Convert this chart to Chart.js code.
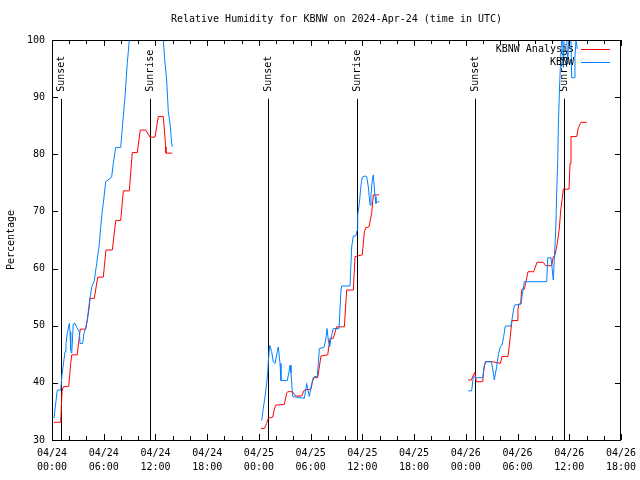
<!DOCTYPE html>
<html>
<head>
<meta charset="utf-8">
<title>Relative Humidity for KBNW</title>
<script src="https://cdn.jsdelivr.net/npm/chart.js@4"></script>
<style>
  html, body { margin: 0; padding: 0; background: #ffffff; }
  #rh-chart { display: block; }
</style>
</head>
<body>
<canvas id="rh-chart" width="640" height="480"></canvas>
<script>
// hours since 04/24 00:00 UTC, null = gap between runs
const anaHours = [
  0.23, 1.01, 1.16, 1.31, 1.94, 2.17, 2.29, 2.93, 3.10, 3.28, 3.91, 4.03, 4.33, 4.41, 4.91,
  5.30, 5.95, 6.26, 7.00, 7.39, 7.97, 8.27, 8.97, 9.31, 9.89, 10.24, 10.87, 11.37, 11.95,
  12.33, 12.91, 13.19, 13.22, 13.95, null,
  24.24, 24.63, 24.90, 25.09, 25.60, 25.79, 25.95, 26.95, 27.22, 27.34, 27.87, 28.27, 28.96,
  29.27, 30.04, 30.31, 30.82, 31.20, 31.98, 32.25, 32.63, 33.02, 33.91, 34.18, 34.95, 35.15,
  35.99, 36.23, 36.39, 36.77, 37.08, 37.27, 37.93, null,
  48.25, 48.64, 48.83, 49.03, 49.22, 49.96, 50.08, 50.26, 51.12, 52.00, 52.20, 52.89, 53.05,
  53.16, 53.28, 53.36, 53.94, 54.05, 54.14, 54.37, 54.44, 54.52, 54.78, 54.98, 55.21, 55.87,
  56.26, 56.99, 57.27, 57.96, 58.15, 58.35, 58.61, 58.85, 59.01, 59.19, 59.31, 59.97, 60.09,
  60.20, 60.86, 61.05, 61.36, 62.02
];
const anaRH = [
  33.1, 33.1, 38.45, 39.3, 39.4, 43.4, 44.9, 44.9, 47.2, 49.4, 49.4, 50.4, 53.3, 54.8, 54.8,
  58.5, 58.5, 63.25, 63.25, 68.4, 68.4, 73.6, 73.6, 80.3, 80.3, 84.25, 84.25, 83.0, 83.0,
  86.6, 86.6, 81.3, 80.2, 80.2, null,
  32.0, 32.0, 32.9, 33.8, 34.0, 35.4, 36.1, 36.25, 38.2, 38.45, 38.45, 37.7, 37.7,
  38.75, 38.9, 40.9, 40.9, 44.7, 44.9, 47.8, 47.8, 49.8, 49.8, 56.25, 56.25, 62.1,
  62.4, 66.45, 67.15, 67.3, 69.7, 72.9, 72.9, null,
  40.5, 40.5, 41.2, 41.8, 40.2, 40.2, 42.25, 43.7, 43.7, 43.4, 44.6, 44.6, 46.6,
  48.1, 49.95, 50.9, 50.9, 52.75, 53.8, 53.8, 55.7, 56.4, 56.4, 57.7, 59.45, 59.45,
  61.1, 61.1, 60.5, 60.5, 62.1, 62.4, 64.4, 67.05, 70.25, 72.3, 73.9, 73.9, 78.4,
  83.1, 83.1, 84.65, 85.6, 85.6
];

const obsHours = [
  0.23, 0.61, 1.01, 1.16, 1.31, 1.51, 1.62, 1.77, 2.01, 2.09, 2.17, 2.29, 2.47, 2.67, 2.87,
  3.17, 3.25, 3.56, 3.71, 3.94, 4.09, 4.33, 4.61, 4.91, 5.18, 5.45, 5.76, 5.95, 6.23, 6.92,
  7.11, 7.39, 7.97, 8.20, 8.47, 8.73, 8.97, 12.91, 13.11, 13.30, 13.49, 13.69, 13.88, 13.95, null,
  24.32, 24.51, 24.71, 24.90, 25.02, 25.09, 25.25, 25.48, 25.67, 25.87, 26.13, 26.25, 26.45,
  26.56, 27.29, 27.49, 27.61, 27.72, 27.92, 29.27, 29.43, 29.54, 29.85, 30.12, 30.43, 30.77,
  30.89, 31.01, 31.55, 31.75, 31.90, 32.05, 32.21, 32.44, 32.63, 33.29, 33.52, 33.60, 34.57,
  34.76, 34.95, 35.23, 35.41, 35.46, 35.65, 35.84, 35.99, 36.31, 36.50, 36.69, 36.89, 37.00,
  37.15, 37.27, 37.39, 37.47, 37.58, 37.78, 37.97, null,
  48.29, 48.68, 48.87, 49.18, 49.96, 50.15, 50.34, 50.98, 51.19, 51.31, 51.58, 51.77, 52.00,
  52.20, 52.39, 52.58, 53.24, 53.44, 53.63, 54.40, 54.60, 54.79, 57.38, 57.50, 57.88, 58.03,
  58.15, 58.26, 58.43, 58.54, 58.66, 58.73, 58.85, 59.01, 59.12, 59.24, 59.31, 59.40, 59.70,
  59.82, 59.93, 60.20, 60.28, 60.58, 60.66, 60.78, 60.93
];
const obsRH = [
  33.8, 38.75, 38.75, 41.4, 43.1, 45.45, 46.9, 48.7, 50.4, 48.95, 45.75, 45.2, 50.3, 50.4, 49.7,
  48.95, 46.9, 46.9, 48.7, 49.8, 51.0, 54.0, 56.8, 57.9, 60.9, 63.8, 69.1, 71.4, 75.2, 76.0,
  78.4, 81.2, 81.2, 85.4, 90.1, 95.9, 100, 100, 95.9, 93.0, 87.45, 85.4, 81.9, 81.3, null,
  33.4, 35.55, 37.6, 39.9, 41.7, 43.7, 46.6, 45.45, 43.7, 43.4, 45.45, 46.3, 43.4,
  40.4, 40.4, 41.95, 43.1, 41.7, 37.6, 37.3, 38.75, 39.9, 37.6, 39.9, 41.1, 41.1,
  43.4, 46.0, 46.2, 47.5, 49.5, 47.5, 46.3, 48.4, 49.5, 49.5, 56.25, 56.95, 56.95,
  63.8, 65.7, 65.7, 66.75, 69.4, 71.4, 74.6, 76.0, 76.2, 76.1, 74.3, 71.1, 72.9,
  75.5, 76.4, 74.1, 72.6, 71.4, 71.7, 71.7, null,
  38.6, 38.6, 41.1, 40.9, 40.9, 43.1, 43.7, 43.7, 41.7, 40.5, 42.8, 44.9, 46.3,
  46.6, 48.1, 49.95, 49.95, 51.9, 53.6, 53.8, 55.95, 57.7, 57.7, 61.9, 61.9, 59.75,
  58.0, 61.5, 66.75, 73.2, 79.0, 84.8, 90.7, 97.1, 100, 100, 95.2, 100, 100,
  95.8, 100, 100, 93.4, 93.4, 97.0, 100, 98.4
];

const sunHours = [1.08, 11.40, 25.09, 35.42, 49.10, 59.43];
const sunLabels = ['Sunset', 'Sunrise', 'Sunset', 'Sunrise', 'Sunset', 'Sunrise'];
const sunLineTop = 89.7;

const dayLabels = ['04/24', '04/24', '04/24', '04/24', '04/25', '04/25', '04/25', '04/25', '04/26', '04/26', '04/26', '04/26'];
const timeLabels = ['00:00', '06:00', '12:00', '18:00', '00:00', '06:00', '12:00', '18:00', '00:00', '06:00', '12:00', '18:00'];

const FONT = '10px "DejaVu Sans Mono", monospace';

function toPoints(hours, values) {
    return hours.map((h, i) => (h === null ? { x: null, y: null } : { x: h, y: values[i] }));
}

// gnuplot look: frame, inward ticks, sun markers, key, titles
const gnuplotFrame = {
    id: 'gnuplotFrame',
    beforeDatasetsDraw(chart) {
        const { ctx, chartArea: area, scales } = chart;
        ctx.save();
        ctx.strokeStyle = '#000000';
        ctx.lineWidth = 1;
        ctx.fillStyle = '#000000';
        ctx.font = FONT;
        sunHours.forEach((h, i) => {
            const px = Math.round(scales.x.getPixelForValue(h)) + 0.5;
            const top = scales.y.getPixelForValue(sunLineTop);
            ctx.beginPath();
            ctx.moveTo(px, area.bottom);
            ctx.lineTo(px, top);
            ctx.stroke();

            ctx.save();
            ctx.translate(px, top - 7);
            ctx.rotate(-Math.PI / 2);
            ctx.textAlign = 'left';
            ctx.textBaseline = 'middle';
            ctx.fillText(sunLabels[i], 0, 0);
            ctx.restore();
        });
        ctx.restore();
    },
    afterDatasetsDraw(chart) {
        const { ctx, chartArea: area, scales } = chart;
        ctx.save();
        ctx.strokeStyle = '#000000';
        ctx.lineWidth = 1;

        // ticks every 2 hours, longer every 6
        for (let h = 0; h <= 66; h += 2) {
            const px = Math.round(scales.x.getPixelForValue(h)) + 0.5;
            const len = h % 6 === 0 ? 6 : 4;
            ctx.beginPath();
            ctx.moveTo(px, area.bottom);
            ctx.lineTo(px, area.bottom - len);
            ctx.moveTo(px, area.top);
            ctx.lineTo(px, area.top + len);
            ctx.stroke();
        }
        for (let v = 30; v <= 100; v += 10) {
            const py = Math.round(scales.y.getPixelForValue(v)) + 0.5;
            ctx.beginPath();
            ctx.moveTo(area.left, py);
            ctx.lineTo(area.left + 6, py);
            ctx.moveTo(area.right, py);
            ctx.lineTo(area.right - 6, py);
            ctx.stroke();
        }

        ctx.strokeRect(Math.round(area.left) + 0.5, Math.round(area.top) + 0.5,
            Math.round(area.right - area.left) - 1, Math.round(area.bottom - area.top));

        // key
        ctx.font = FONT;
        ctx.fillStyle = '#000000';
        ctx.textAlign = 'right';
        ctx.textBaseline = 'middle';
        chart.data.datasets.forEach((ds, i) => {
            const y = Math.round(area.top + 9 + i * 13) + 0.5;
            ctx.fillText(ds.label, area.right - 47, y);
            ctx.strokeStyle = ds.borderColor;
            ctx.beginPath();
            ctx.moveTo(area.right - 40, y);
            ctx.lineTo(area.right - 11, y);
            ctx.stroke();
        });

        // titles
        ctx.textAlign = 'center';
        ctx.fillText('Relative Humidity for KBNW on 2024-Apr-24 (time in UTC)', (area.left + area.right) / 2, 19);
        ctx.save();
        ctx.translate(11, (area.top + area.bottom) / 2);
        ctx.rotate(-Math.PI / 2);
        ctx.fillText('Percentage', 0, 0);
        ctx.restore();
        ctx.restore();
    }
};

const ctx = document.getElementById('rh-chart');
const rhChart = new Chart(ctx, {
    type: 'line',
    data: {
        datasets: [{
            label: 'KBNW Analysis',
            data: toPoints(anaHours, anaRH),
            borderColor: '#ff0000',
            borderWidth: 1,
            pointRadius: 0,
            tension: 0,
            spanGaps: false,
            order: 1
        }, {
            label: 'KBNW',
            data: toPoints(obsHours, obsRH),
            borderColor: '#0080ff',
            borderWidth: 1,
            pointRadius: 0,
            tension: 0,
            spanGaps: false,
            order: 0
        }]
    },
    options: {
        responsive: false,
        animation: false,
        devicePixelRatio: 1,
        layout: {
            padding: { top: 40, right: 19, left: 0, bottom: 0 }
        },
        plugins: {
            legend: { display: false },
            title: { display: false },
            tooltip: { enabled: false }
        },
        scales: {
            x: {
                type: 'linear',
                min: 0,
                max: 66,
                afterFit: (scale) => {
                    scale.height = 40;
                    // let the edge labels hang into the margins
                    scale.paddingLeft = 0;
                    scale.paddingRight = 0;
                },
                grid: { display: false, drawTicks: false },
                border: { display: false },
                ticks: {
                    stepSize: 6,
                    autoSkip: false,
                    maxRotation: 0,
                    padding: 6,
                    color: '#000000',
                    font: { family: '"DejaVu Sans Mono", monospace', size: 10, lineHeight: 1.4 },
                    callback: (value) => {
                        const i = Math.round(value / 6);
                        return [dayLabels[i], timeLabels[i]];
                    }
                }
            },
            y: {
                min: 30,
                max: 100,
                afterFit: (scale) => {
                    scale.width = 52;
                    scale.paddingTop = 0;
                    scale.paddingBottom = 0;
                },
                grid: { display: false, drawTicks: false },
                border: { display: false },
                ticks: {
                    stepSize: 10,
                    padding: 7,
                    color: '#000000',
                    font: { family: '"DejaVu Sans Mono", monospace', size: 10 }
                }
            }
        }
    },
    plugins: [gnuplotFrame]
});
</script>
</body>
</html>
